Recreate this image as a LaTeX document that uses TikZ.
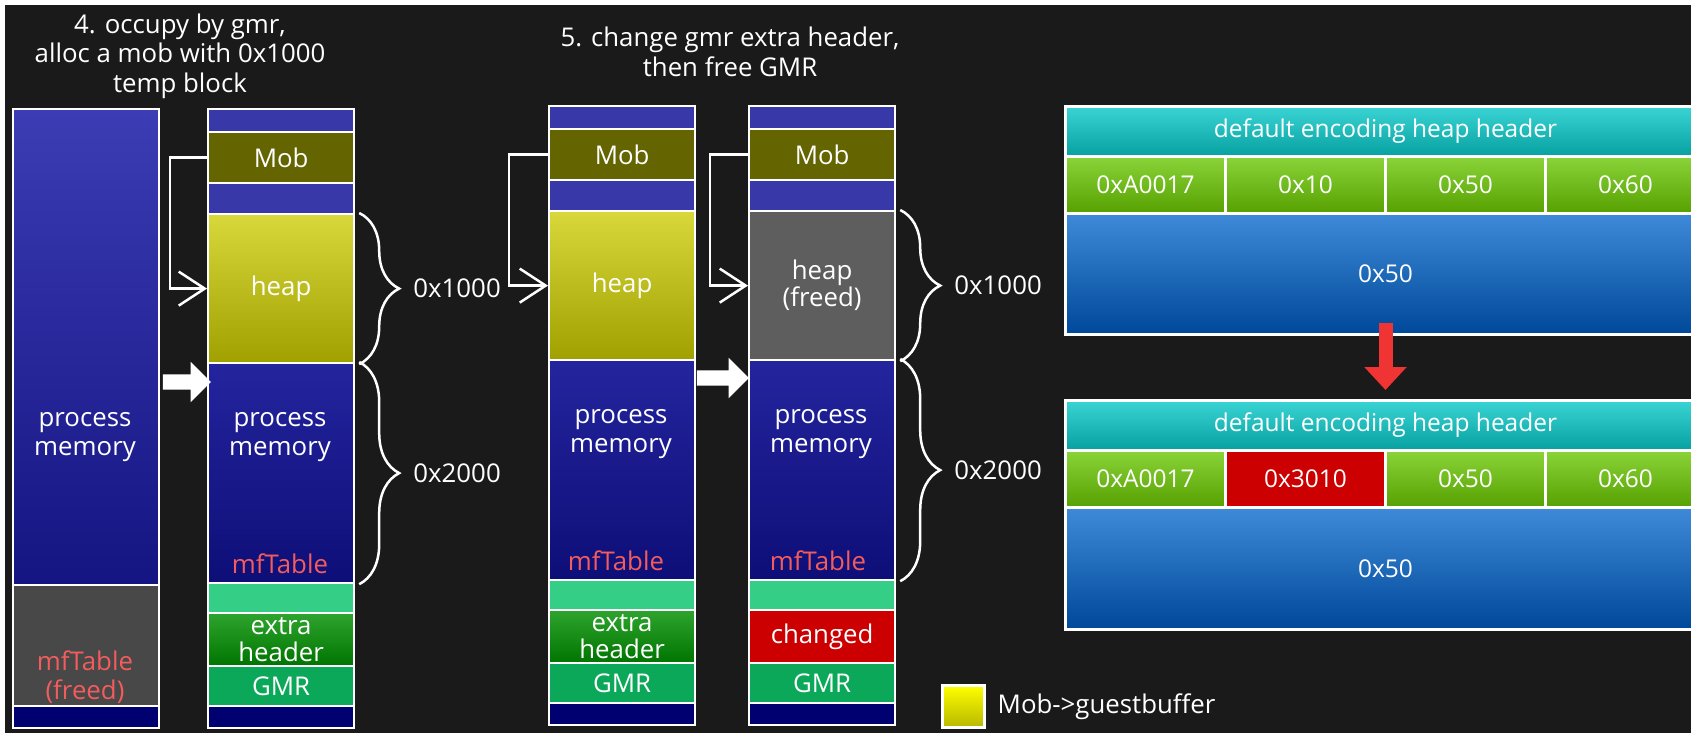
\documentclass[tikz,border=0pt]{standalone}
\usepackage{fontspec}
\setmainfont{Open Sans}
\usetikzlibrary{positioning,calc,decorations.pathreplacing,arrows.meta,shapes.arrows}

\definecolor{bgdark}{HTML}{1A1A1A}
\definecolor{bandblue}{HTML}{3838A8}
\definecolor{mobolive}{HTML}{646400}
\definecolor{heaptop}{HTML}{D8D83C}
\definecolor{heapbot}{HTML}{A0A000}
\definecolor{pmonetop}{HTML}{3C3CB4}
\definecolor{pmonebot}{HTML}{141482}
\definecolor{pmtop}{HTML}{24249E}
\definecolor{pmbot}{HTML}{0E0E78}
\definecolor{lightgreen}{HTML}{34CE86}
\definecolor{xhtop}{HTML}{2EA42E}
\definecolor{xhbot}{HTML}{007400}
\definecolor{gmrgreen}{HTML}{0CA85A}
\definecolor{navy}{HTML}{000070}
\definecolor{freedgray}{HTML}{484848}
\definecolor{heapgray}{HTML}{5E5E5E}
\definecolor{chgred}{HTML}{CC0000}
\definecolor{mfred}{HTML}{F25C5C}
\definecolor{cyantop}{HTML}{3AD4D4}
\definecolor{cyanbot}{HTML}{06A0A0}
\definecolor{celltop}{HTML}{8AD43A}
\definecolor{cellbot}{HTML}{56A000}
\definecolor{bodytop}{HTML}{3E8AD8}
\definecolor{bodybot}{HTML}{00489A}
\definecolor{arrowred}{HTML}{F03434}
\definecolor{legtop}{HTML}{FFFF00}
\definecolor{legbot}{HTML}{B8B800}

\begin{document}
\begin{tikzpicture}[x=1pt,y=-1pt,
  txt/.style={text=white, align=center, inner sep=0pt, font=\fontsize{25.8}{29.5}\selectfont},
  redtxt/.style={txt, text=mfred},
  sec/.style={draw=white, line width=2.2pt, anchor=north west, inner sep=0pt, minimum width=146pt,
    minimum height=#1pt, text=white, align=center, font=\fontsize{25.8}{27}\selectfont},
  cell/.style={draw=white, line width=3pt, anchor=north west, inner sep=0pt, minimum width=160pt,
    minimum height=57pt, text=white, font=\fontsize{24.5}{28}\selectfont, top color=celltop, bottom color=cellbot},
  ptr/.style={draw=white, line width=2.5pt, -{Straight Barb[length=26pt,width=34pt]}},
  brc/.style={draw=white, line width=2.5pt, decorate, decoration={brace, amplitude=40pt}},
  fatarrow/.style={single arrow, fill=white, inner sep=7.5pt, minimum width=40pt,
    single arrow head extend=12.5pt}]
\useasboundingbox (0,0) rectangle (1691,733);
\fill[white] (0,0) rectangle (1710,745);
\fill[bgdark] (5,5) rectangle (1710,745);

% titles
\node[txt] (title4) at (180,56) {4. occupy by gmr,\\alloc a mob with 0x1000\\temp block};
\node[txt] (title5) at (730,52) {5. change gmr extra header,\\then free GMR};

% column 1
\node[sec=476, top color=pmonetop, bottom color=pmonebot] (col1pm) at (12,108) {};
\node[sec=121, fill=freedgray] (col1free) at (12,584) {};
\node[sec=22, fill=navy] (col1end) at (12,705) {};
\node[txt] (col1pmtxt) at (85,437) {process\\memory};
\node[redtxt] (col1freetxt) at (85,677) {mfTable\\(freed)};

% column 2
\node[sec=23, fill=bandblue] (col2top) at (207,108) {};
\node[sec=51, fill=mobolive] (col2mob) at (207,131) {Mob};
\node[sec=31, fill=bandblue] (col2gap) at (207,182) {};
\node[sec=149, top color=heaptop, bottom color=heapbot] (col2heap) at (207,213) {heap};
\node[sec=220, top color=pmtop, bottom color=pmbot] (col2pm) at (207,362) {};
\node[sec=30, fill=lightgreen] (col2lg) at (207,582) {};
\node[sec=53, top color=xhtop, bottom color=xhbot] (col2xh) at (207,612) {extra\\header};
\node[sec=40, fill=gmrgreen] (col2gmr) at (207,665) {GMR};
\node[sec=22, fill=navy] (col2end) at (207,705) {};
\node[txt] (col2pmtxt) at (280,437) {process\\memory};
\node[redtxt] (col2mf) at (280,564) {mfTable};
\draw[ptr] (col2mob.west) -- ++(-37,0) |- (col2heap.west);
\draw[brc] ($(col2heap.north east)+(4,0)$) -- ($(col2heap.south east)+(4,0)$)
  node[txt, midway, right=53pt] {0x1000};
\draw[brc] ($(col2pm.north east)+(4,0)$) -- ($(col2pm.south east)+(4,0)$)
  node[txt, midway, right=53pt] {0x2000};
\node[fatarrow, minimum height=48pt] (arrow4) at (183,382) {};

% column 3
\node[sec=23, fill=bandblue] (col3top) at (548,105) {};
\node[sec=51, fill=mobolive] (col3mob) at (548,128) {Mob};
\node[sec=31, fill=bandblue] (col3gap) at (548,179) {};
\node[sec=149, top color=heaptop, bottom color=heapbot] (col3heap) at (548,210) {heap};
\node[sec=220, top color=pmtop, bottom color=pmbot] (col3pm) at (548,359) {};
\node[sec=30, fill=lightgreen] (col3lg) at (548,579) {};
\node[sec=53, top color=xhtop, bottom color=xhbot] (col3xh) at (548,609) {extra\\header};
\node[sec=40, fill=gmrgreen] (col3gmr) at (548,662) {GMR};
\node[sec=22, fill=navy] (col3end) at (548,702) {};
\node[txt] (col3pmtxt) at (621,434) {process\\memory};
\node[redtxt] (col3mf) at (616,561) {mfTable};
\draw[ptr] (col3mob.west) -- ++(-39,0) |- (col3heap.west);
\node[fatarrow, minimum height=52pt] (arrow5) at (719,378) {};

% column 4
\node[sec=23, fill=bandblue] (col4top) at (748,105) {};
\node[sec=51, fill=mobolive] (col4mob) at (748,128) {Mob};
\node[sec=31, fill=bandblue] (col4gap) at (748,179) {};
\node[sec=149, fill=heapgray] (col4heap) at (748,210) {heap\\(freed)};
\node[sec=220, top color=pmtop, bottom color=pmbot] (col4pm) at (748,359) {};
\node[sec=30, fill=lightgreen] (col4lg) at (748,579) {};
\node[sec=53, fill=chgred] (col4chg) at (748,609) {changed};
\node[sec=40, fill=gmrgreen] (col4gmr) at (748,662) {GMR};
\node[sec=22, fill=navy] (col4end) at (748,702) {};
\node[txt] (col4pmtxt) at (821,434) {process\\memory};
\node[redtxt] (col4mf) at (818,561) {mfTable};
\draw[ptr] (col4mob.west) -- ++(-38,0) |- (col4heap.west);
\draw[brc] ($(col4heap.north east)+(4,0)$) -- ($(col4heap.south east)+(4,0)$)
  node[txt, midway, right=53pt] {0x1000};
\draw[brc] ($(col4pm.north east)+(4,0)$) -- ($(col4pm.south east)+(4,0)$)
  node[txt, midway, right=53pt] {0x2000};

% heap header, before
\node[cell, minimum width=640pt, minimum height=50pt, top color=cyantop, bottom color=cyanbot] (hdr1) at (1064,105) {default encoding heap header};
\node[cell] (cell11) at (1064,155) {0xA0017};
\node[cell] (cell12) at (1224,155) {0x10};
\node[cell] (cell13) at (1384,155) {0x50};
\node[cell] (cell14) at (1544,155) {0x60};
\node[cell, minimum width=640pt, minimum height=121pt, top color=bodytop, bottom color=bodybot] (body1) at (1064,212) {0x50};

% heap header, after
\node[cell, minimum width=640pt, minimum height=50pt, top color=cyantop, bottom color=cyanbot] (hdr2) at (1064,399) {default encoding heap header};
\node[cell] (cell21) at (1064,449) {0xA0017};
\node[cell, top color=chgred, bottom color=chgred] (cell22) at (1224,449) {0x3010};
\node[cell] (cell23) at (1384,449) {0x50};
\node[cell] (cell24) at (1544,449) {0x60};
\node[cell, minimum width=640pt, minimum height=122pt, top color=bodytop, bottom color=bodybot] (body2) at (1064,506) {0x50};
\draw[arrowred, line width=14pt, shorten >=9pt, -{Triangle[length=23pt,width=41pt]}] ([yshift=13pt]body1.south) -- (hdr2.north);

% legend
\node[draw=white, line width=2.5pt, anchor=north west, inner sep=0pt, minimum size=42pt, top color=legtop, bottom color=legbot] (legbox) at (941,684) {};
\node[txt, right=12pt of legbox] (legtxt) {Mob->guestbuffer};
\end{tikzpicture}
\end{document}
